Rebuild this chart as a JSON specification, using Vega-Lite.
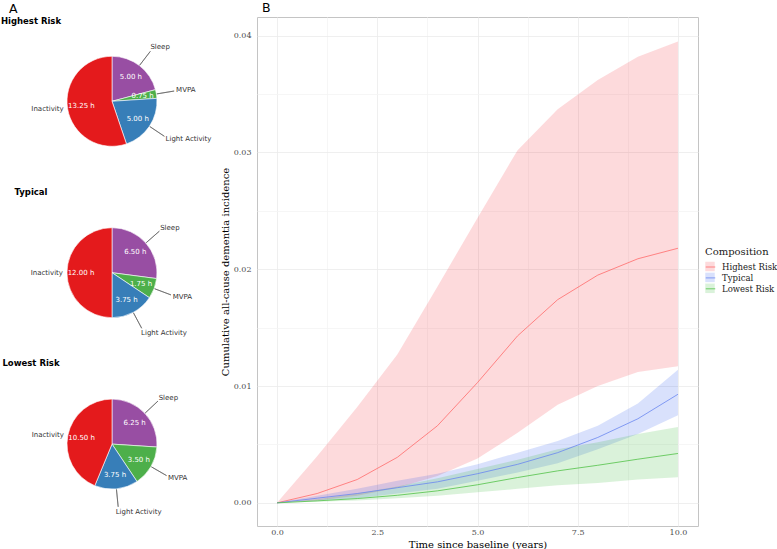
{
  "$schema": "https://vega.github.io/schema/vega-lite/v6.json",
  "padding": {"left": 0, "top": 1, "right": 0, "bottom": 0},
  "background": "white",
  "config": {
    "view": {"stroke": null},
    "text": {"font": "DejaVu Sans"}
  },
  "datasets": {
    "pies": [
      {"Composition": "Highest Risk", "Activity": "Sleep", "Hours": 5.00, "Order": 1, "Label": "5.00 h"},
      {"Composition": "Highest Risk", "Activity": "MVPA", "Hours": 0.75, "Order": 2, "Label": "0.75 h"},
      {"Composition": "Highest Risk", "Activity": "Light Activity", "Hours": 5.00, "Order": 3, "Label": "5.00 h"},
      {"Composition": "Highest Risk", "Activity": "Inactivity", "Hours": 13.25, "Order": 4, "Label": "13.25 h"},
      {"Composition": "Typical", "Activity": "Sleep", "Hours": 6.50, "Order": 1, "Label": "6.50 h"},
      {"Composition": "Typical", "Activity": "MVPA", "Hours": 1.75, "Order": 2, "Label": "1.75 h"},
      {"Composition": "Typical", "Activity": "Light Activity", "Hours": 3.75, "Order": 3, "Label": "3.75 h"},
      {"Composition": "Typical", "Activity": "Inactivity", "Hours": 12.00, "Order": 4, "Label": "12.00 h"},
      {"Composition": "Lowest Risk", "Activity": "Sleep", "Hours": 6.25, "Order": 1, "Label": "6.25 h"},
      {"Composition": "Lowest Risk", "Activity": "MVPA", "Hours": 3.50, "Order": 2, "Label": "3.50 h"},
      {"Composition": "Lowest Risk", "Activity": "Light Activity", "Hours": 3.75, "Order": 3, "Label": "3.75 h"},
      {"Composition": "Lowest Risk", "Activity": "Inactivity", "Hours": 10.50, "Order": 4, "Label": "10.50 h"}
    ],
    "curves": [
      {"Composition": "Highest Risk", "Year": 0, "Estimate": 0, "Lower": 0, "Upper": 0},
      {"Composition": "Highest Risk", "Year": 1, "Estimate": 0.0008, "Lower": 0.0002, "Upper": 0.0040},
      {"Composition": "Highest Risk", "Year": 2, "Estimate": 0.0020, "Lower": 0.0006, "Upper": 0.0082},
      {"Composition": "Highest Risk", "Year": 3, "Estimate": 0.0039, "Lower": 0.0013, "Upper": 0.0127},
      {"Composition": "Highest Risk", "Year": 4, "Estimate": 0.0066, "Lower": 0.0023, "Upper": 0.0185},
      {"Composition": "Highest Risk", "Year": 5, "Estimate": 0.0103, "Lower": 0.0038, "Upper": 0.0244},
      {"Composition": "Highest Risk", "Year": 6, "Estimate": 0.0143, "Lower": 0.0060, "Upper": 0.0302},
      {"Composition": "Highest Risk", "Year": 7, "Estimate": 0.0174, "Lower": 0.0084, "Upper": 0.0337},
      {"Composition": "Highest Risk", "Year": 8, "Estimate": 0.0195, "Lower": 0.0100, "Upper": 0.0362},
      {"Composition": "Highest Risk", "Year": 9, "Estimate": 0.0209, "Lower": 0.0112, "Upper": 0.0382},
      {"Composition": "Highest Risk", "Year": 10, "Estimate": 0.0218, "Lower": 0.0117, "Upper": 0.0395},
      {"Composition": "Typical", "Year": 0, "Estimate": 0, "Lower": 0, "Upper": 0},
      {"Composition": "Typical", "Year": 1, "Estimate": 0.0004, "Lower": 0.0002, "Upper": 0.0006},
      {"Composition": "Typical", "Year": 2, "Estimate": 0.0008, "Lower": 0.0004, "Upper": 0.0012},
      {"Composition": "Typical", "Year": 3, "Estimate": 0.0013, "Lower": 0.0008, "Upper": 0.0019},
      {"Composition": "Typical", "Year": 4, "Estimate": 0.0018, "Lower": 0.0012, "Upper": 0.0025},
      {"Composition": "Typical", "Year": 5, "Estimate": 0.0025, "Lower": 0.0019, "Upper": 0.0033},
      {"Composition": "Typical", "Year": 6, "Estimate": 0.0033, "Lower": 0.0026, "Upper": 0.0043},
      {"Composition": "Typical", "Year": 7, "Estimate": 0.0043, "Lower": 0.0034, "Upper": 0.0053},
      {"Composition": "Typical", "Year": 8, "Estimate": 0.0056, "Lower": 0.0046, "Upper": 0.0066},
      {"Composition": "Typical", "Year": 9, "Estimate": 0.0072, "Lower": 0.0059, "Upper": 0.0085},
      {"Composition": "Typical", "Year": 10, "Estimate": 0.0093, "Lower": 0.0075, "Upper": 0.0114},
      {"Composition": "Lowest Risk", "Year": 0, "Estimate": 0, "Lower": 0, "Upper": 0},
      {"Composition": "Lowest Risk", "Year": 1, "Estimate": 0.00017, "Lower": 0.0001, "Upper": 0.0003},
      {"Composition": "Lowest Risk", "Year": 2, "Estimate": 0.00037, "Lower": 0.0002, "Upper": 0.0008},
      {"Composition": "Lowest Risk", "Year": 3, "Estimate": 0.00065, "Lower": 0.0004, "Upper": 0.0014},
      {"Composition": "Lowest Risk", "Year": 4, "Estimate": 0.00103, "Lower": 0.0006, "Upper": 0.0021},
      {"Composition": "Lowest Risk", "Year": 5, "Estimate": 0.00155, "Lower": 0.0009, "Upper": 0.0029},
      {"Composition": "Lowest Risk", "Year": 6, "Estimate": 0.00217, "Lower": 0.0012, "Upper": 0.0037},
      {"Composition": "Lowest Risk", "Year": 7, "Estimate": 0.00274, "Lower": 0.0015, "Upper": 0.0046},
      {"Composition": "Lowest Risk", "Year": 8, "Estimate": 0.00322, "Lower": 0.0017, "Upper": 0.0052},
      {"Composition": "Lowest Risk", "Year": 9, "Estimate": 0.00374, "Lower": 0.0020, "Upper": 0.0059},
      {"Composition": "Lowest Risk", "Year": 10, "Estimate": 0.00423, "Lower": 0.0022, "Upper": 0.0065}
    ]
  },
  "hconcat": [
    {
      "title": {"text": "A", "anchor": "start", "frame": "group", "font": "DejaVu Sans", "fontSize": 12.5, "fontWeight": "normal", "dx": 8, "offset": 1.5, "color": "black"},
      "spacing": 1.4,
      "vconcat": [
        {
          "width": 222, "height": 168.6,
          "view": {"stroke": null},
          "title": {"text": "Highest Risk", "anchor": "middle", "frame": "group", "dx": -81, "dy": 8, "font": "DejaVu Sans", "fontSize": 8.5, "fontWeight": "bold", "offset": 0, "color": "black"},
          "data": {"name": "pies"},
          "transform": [{"filter": "datum.Composition === 'Highest Risk'"}],
          "encoding": {
            "theta": {"field": "Hours", "type": "quantitative", "stack": true},
            "order": {"field": "Order", "type": "quantitative"}
          },
          "layer": [
            {"mark": {"type": "arc", "outerRadius": 45, "stroke": "white", "strokeWidth": 0.6},
             "encoding": {"color": {"field": "Activity", "type": "nominal", "scale": {"domain": ["Sleep", "MVPA", "Light Activity", "Inactivity"], "range": ["#984EA3", "#4DAF4A", "#377EB8", "#E41A1C"]}, "legend": null}}},
            {"mark": {"type": "arc", "innerRadius": 45.5, "outerRadius": 63, "padAngle": 3.1416, "fillOpacity": 0, "stroke": "#555555", "strokeWidth": 0.6},
             "encoding": {"strokeOpacity": {"condition": {"test": "datum.Activity === 'Inactivity'", "value": 0}, "value": 1}}},
            {"mark": {"type": "text", "radius": 31, "fill": "white", "fontSize": 7, "font": "DejaVu Sans"},
             "encoding": {"text": {"field": "Label"}}},
            {"mark": {"type": "text", "radius": 68, "align": "left", "baseline": "middle", "dx": -3, "fill": "#333333", "fontSize": 7, "font": "DejaVu Sans"},
             "encoding": {"text": {"condition": {"test": "datum.Activity !== 'Inactivity'", "field": "Activity"}, "value": ""}}},
            {"mark": {"type": "text", "radius": 49, "align": "right", "baseline": "middle", "fill": "#333333", "fontSize": 7, "font": "DejaVu Sans"},
             "encoding": {"text": {"condition": {"test": "datum.Activity === 'Inactivity'", "field": "Activity"}, "value": ""}}}
          ]
        },
        {
          "width": 222, "height": 168.6,
          "view": {"stroke": null},
          "title": {"text": "Typical", "anchor": "middle", "frame": "group", "dx": -81, "dy": 8, "font": "DejaVu Sans", "fontSize": 8.5, "fontWeight": "bold", "offset": 0, "color": "black"},
          "data": {"name": "pies"},
          "transform": [{"filter": "datum.Composition === 'Typical'"}],
          "encoding": {
            "theta": {"field": "Hours", "type": "quantitative", "stack": true},
            "order": {"field": "Order", "type": "quantitative"}
          },
          "layer": [
            {"mark": {"type": "arc", "outerRadius": 45, "stroke": "white", "strokeWidth": 0.6},
             "encoding": {"color": {"field": "Activity", "type": "nominal", "scale": {"domain": ["Sleep", "MVPA", "Light Activity", "Inactivity"], "range": ["#984EA3", "#4DAF4A", "#377EB8", "#E41A1C"]}, "legend": null}}},
            {"mark": {"type": "arc", "innerRadius": 45.5, "outerRadius": 63, "padAngle": 3.1416, "fillOpacity": 0, "stroke": "#555555", "strokeWidth": 0.6},
             "encoding": {"strokeOpacity": {"condition": {"test": "datum.Activity === 'Inactivity'", "value": 0}, "value": 1}}},
            {"mark": {"type": "text", "radius": 31, "fill": "white", "fontSize": 7, "font": "DejaVu Sans"},
             "encoding": {"text": {"field": "Label"}}},
            {"mark": {"type": "text", "radius": 68, "align": "left", "baseline": "middle", "dx": -3, "fill": "#333333", "fontSize": 7, "font": "DejaVu Sans"},
             "encoding": {"text": {"condition": {"test": "datum.Activity !== 'Inactivity'", "field": "Activity"}, "value": ""}}},
            {"mark": {"type": "text", "radius": 49, "align": "right", "baseline": "middle", "fill": "#333333", "fontSize": 7, "font": "DejaVu Sans"},
             "encoding": {"text": {"condition": {"test": "datum.Activity === 'Inactivity'", "field": "Activity"}, "value": ""}}}
          ]
        },
        {
          "width": 222, "height": 168.6,
          "view": {"stroke": null},
          "title": {"text": "Lowest Risk", "anchor": "middle", "frame": "group", "dx": -81, "dy": 8, "font": "DejaVu Sans", "fontSize": 8.5, "fontWeight": "bold", "offset": 0, "color": "black"},
          "data": {"name": "pies"},
          "transform": [{"filter": "datum.Composition === 'Lowest Risk'"}],
          "encoding": {
            "theta": {"field": "Hours", "type": "quantitative", "stack": true},
            "order": {"field": "Order", "type": "quantitative"}
          },
          "layer": [
            {"mark": {"type": "arc", "outerRadius": 45, "stroke": "white", "strokeWidth": 0.6},
             "encoding": {"color": {"field": "Activity", "type": "nominal", "scale": {"domain": ["Sleep", "MVPA", "Light Activity", "Inactivity"], "range": ["#984EA3", "#4DAF4A", "#377EB8", "#E41A1C"]}, "legend": null}}},
            {"mark": {"type": "arc", "innerRadius": 45.5, "outerRadius": 63, "padAngle": 3.1416, "fillOpacity": 0, "stroke": "#555555", "strokeWidth": 0.6},
             "encoding": {"strokeOpacity": {"condition": {"test": "datum.Activity === 'Inactivity'", "value": 0}, "value": 1}}},
            {"mark": {"type": "text", "radius": 31, "fill": "white", "fontSize": 7, "font": "DejaVu Sans"},
             "encoding": {"text": {"field": "Label"}}},
            {"mark": {"type": "text", "radius": 68, "align": "left", "baseline": "middle", "dx": -3, "fill": "#333333", "fontSize": 7, "font": "DejaVu Sans"},
             "encoding": {"text": {"condition": {"test": "datum.Activity !== 'Inactivity'", "field": "Activity"}, "value": ""}}},
            {"mark": {"type": "text", "radius": 49, "align": "right", "baseline": "middle", "fill": "#333333", "fontSize": 7, "font": "DejaVu Sans"},
             "encoding": {"text": {"condition": {"test": "datum.Activity === 'Inactivity'", "field": "Activity"}, "value": ""}}}
          ]
        }
      ]
    },
    {
      "width": 441, "height": 509,
      "view": {"stroke": "#C4C4C4", "strokeWidth": 1},
      "title": {"text": "B", "anchor": "start", "frame": "group", "font": "DejaVu Sans", "fontSize": 12.5, "fontWeight": "normal", "dx": 5, "offset": 3, "color": "black"},
      "data": {"name": "curves"},
      "encoding": {
        "x": {"field": "Year", "type": "quantitative", "title": "Time since baseline (years)",
          "scale": {"domain": [-0.5, 10.5], "nice": false, "zero": false},
          "axis": {"values": [0, 1.25, 2.5, 3.75, 5, 6.25, 7.5, 8.75, 10],
            "labelExpr": "datum.value % 2.5 === 0 ? format(datum.value, '.1f') : ''",
            "ticks": false, "domain": false, "labelOverlap": false,
            "gridColor": {"condition": {"test": "datum.value % 2.5 === 0", "value": "#EBEBEB"}, "value": "#F4F4F4"},
            "gridWidth": 0.8,
            "labelFont": "DejaVu Serif", "labelFontSize": 8, "labelColor": "#4D4D4D", "labelPadding": 2,
            "titleFont": "DejaVu Serif", "titleFontSize": 10, "titleFontWeight": "normal", "titleColor": "black", "titlePadding": 3}}
      },
      "layer": [
        {
          "mark": {"type": "area", "fillOpacity": 0.17},
          "encoding": {
            "y": {"field": "Lower", "type": "quantitative", "title": "Cumulative all-cause dementia incidence",
              "scale": {"domain": [-0.00198, 0.0416], "nice": false, "zero": false},
              "axis": {"values": [0, 0.005, 0.01, 0.015, 0.02, 0.025, 0.03, 0.035, 0.04],
                "labelExpr": "round(datum.value * 1000) % 10 === 0 ? format(datum.value, '.2f') : ''",
                "ticks": false, "domain": false, "labelOverlap": false,
                "gridColor": {"condition": {"test": "round(datum.value * 1000) % 10 === 0", "value": "#EBEBEB"}, "value": "#F4F4F4"},
                "gridWidth": 0.8,
                "labelFont": "DejaVu Serif", "labelFontSize": 8, "labelColor": "#4D4D4D", "labelPadding": 6,
                "titleFont": "DejaVu Serif", "titleFontSize": 10, "titleFontWeight": "normal", "titleColor": "black", "titlePadding": 3}},
            "y2": {"field": "Upper"},
            "fill": {"field": "Composition", "type": "nominal",
              "scale": {"domain": ["Highest Risk", "Typical", "Lowest Risk"], "range": ["#F5222D", "#2050F0", "#22B022"]},
              "legend": {"orient": "none", "legendX": 704, "legendY": 229.5, "title": "Composition",
                "symbolType": "square", "symbolSize": 90, "symbolStrokeWidth": 0, "symbolOpacity": 0.17,
                "labelOpacity": 0, "titleOpacity": 0, "rowPadding": 0.9, "labelOffset": 6, "titlePadding": 5,
                "labelFont": "DejaVu Serif", "labelFontSize": 8.5, "titleFont": "DejaVu Serif", "titleFontSize": 10, "titleFontWeight": "normal"}}
          }
        },
        {
          "mark": {"type": "line", "strokeWidth": 0.8},
          "encoding": {
            "y": {"field": "Estimate", "type": "quantitative"},
            "stroke": {"field": "Composition", "type": "nominal", "sort": ["Highest Risk", "Typical", "Lowest Risk"],
              "scale": {"range": ["#FF6B6B", "#6A86F0", "#52C248"]},
              "legend": {"orient": "none", "legendX": 704, "legendY": 229.5, "title": "Composition",
                "symbolType": "stroke", "symbolSize": 90, "symbolStrokeWidth": 0.8,
                "rowPadding": 0.9, "labelOffset": 6, "titlePadding": 5,
                "labelFont": "DejaVu Serif", "labelFontSize": 8.5, "labelColor": "#1A1A1A", "titleFont": "DejaVu Serif", "titleFontSize": 10, "titleFontWeight": "normal", "titleColor": "#1A1A1A"}}
          }
        }
      ]
    }
  ],
  "spacing": -4
}
